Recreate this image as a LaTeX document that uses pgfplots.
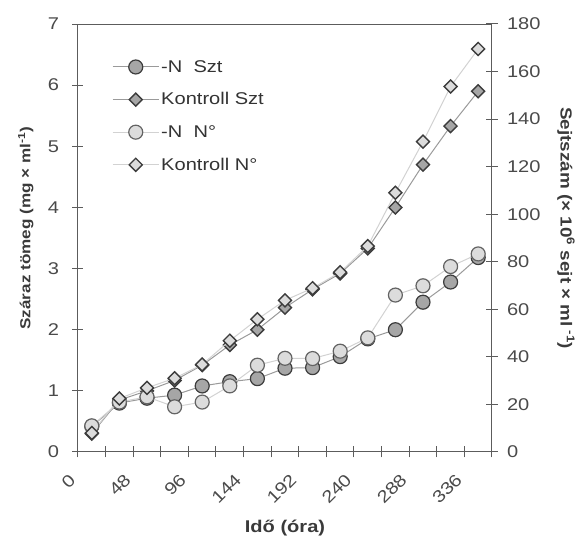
\documentclass[border=0pt]{standalone}
\usepackage{fontspec}
\setmainfont{Liberation Sans}[FakeStretch=1.18]
\usepackage{pgfplots}
\pgfplotsset{compat=1.18}
\usepackage{pgfplotstable}

\definecolor{axgray}{HTML}{5C5C5C}
\definecolor{txtgray}{HTML}{4A4A4A}
\definecolor{lbgray}{HTML}{3A3A3A}
\definecolor{lnDark}{HTML}{9A9A9A}
\definecolor{lnLight}{HTML}{D2D2D2}
\definecolor{fDark}{HTML}{A6A6A6}
\definecolor{fLight}{HTML}{DCDCDC}
\definecolor{oDark}{HTML}{3C3C3C}

% dry mass (left axis, mg/ml)
\pgfplotstableread{
t   nszt  kszt
12  0.42  0.30
36  0.80  0.85
60  0.88  1.00
84  0.93  1.17
108 1.08  1.42
132 1.15  1.75
156 1.20  2.00
180 1.37  2.36
204 1.38  2.66
228 1.56  2.92
252 1.85  3.33
276 2.00  4.00
300 2.45  4.70
324 2.78  5.33
348 3.18  5.90
}\sztdata

% cell number (right axis, 10^6/ml)
\pgfplotstableread{
t   nn    kn
12  11.0  8.0
36  21.0  22.5
60  23.2  27.0
84  19.0  31.0
108 21.0  36.8
132 27.8  46.8
156 36.5  55.8
180 39.4  63.8
204 39.3  68.9
228 42.4  75.6
252 48.0  86.6
276 66.0  109.0
300 69.9  130.5
324 78.0  153.7
348 83.3  169.5
}\ndata

\tikzset{lbl/.style={font=\bfseries\fontsize{17}{17}\selectfont, text=lbgray, anchor=center}}

\pgfplotsset{
  base/.style={
    scale only axis, width=414pt, height=428pt,
    xmin=0, xmax=360,
    axis line style={axgray, line width=1pt},
    every tick/.style={axgray, line width=1pt},
    tick align=center, major tick length=11pt, minor tick length=11pt,
    ticklabel style={font=\fontsize{17}{17}\selectfont, text=txtgray},
    /pgf/number format/assume math mode=true,
  },
  nszt/.style={lnDark, line width=1pt, mark=*, mark size=7pt,
    mark options={fill=fDark, draw=oDark, line width=1.2pt}},
  kszt/.style={lnDark, line width=1pt, mark=square*, mark size=4.6pt,
    mark options={rotate=45, fill=fDark, draw=oDark, line width=1.4pt}},
  nn/.style={lnLight, line width=1pt, mark=*, mark size=7pt,
    mark options={fill=fLight, draw=oDark!80, line width=1.2pt}},
  kn/.style={lnLight, line width=1pt, mark=square*, mark size=4.6pt,
    mark options={rotate=45, fill=fLight, draw=oDark, line width=1.4pt}},
}

\begin{document}
\begin{tikzpicture}
\path[use as bounding box] (-78pt,-99pt) rectangle (504pt,452pt);

\begin{axis}[base,
  ymin=0, ymax=7, ytick={0,1,...,7},
  ytick pos=left, xtick pos=bottom,
  xtick={0,48,...,336},
  minor xtick={24,72,...,360},
  xticklabel style={xshift=-3pt, yshift=-17pt, rotate=45, anchor=east},
  yticklabel style={xshift=-10pt},
  xlabel={Idő (óra)},
  every axis x label/.style={lbl, at={(axis description cs:0.5,-0.177)}},
  ylabel={Száraz tömeg (mg × ml\textsuperscript{-1})},
  every axis y label/.style={lbl, font=\bfseries\fontsize{14.5}{14.5}\selectfont,
    at={(axis description cs:-0.126,0.523)}, rotate=90},
]
\addplot[nszt] table[x=t, y=nszt] {\sztdata};
\addplot[kszt] table[x=t, y=kszt] {\sztdata};
\end{axis}

\begin{axis}[base,
  ymin=0, ymax=180, ytick={0,20,...,180},
  axis y line*=right, axis x line=none,
  yticklabel style={xshift=6pt},
  ylabel={Sejtszám (× 10\textsuperscript{6} sejt × ml\textsuperscript{ -1})},
  every axis y label/.style={lbl, font=\bfseries\fontsize{16}{16}\selectfont,
    at={(axis description cs:1.179,0.523)}, rotate=-90},
  legend cell align=left,
  legend style={at={(axis description cs:0.075,0.925)}, anchor=north west,
    draw=none, fill=none, font=\fontsize{17}{17}\selectfont, text=black!80,
    row sep=15pt},
  legend image code/.code={\draw[mark repeat=2, mark phase=2]
    plot coordinates {(0pt,0pt) (23pt,0pt) (46pt,0pt)};},
]
\addlegendimage{nszt}
\addlegendentry{-N\ \ Szt}
\addlegendimage{kszt}
\addlegendentry{Kontroll Szt}
\addplot[nn] table[x=t, y=nn] {\ndata};
\addlegendentry{-N\ \ N°}
\addplot[kn] table[x=t, y=kn] {\ndata};
\addlegendentry{Kontroll N°}
\end{axis}
\end{tikzpicture}
\end{document}
